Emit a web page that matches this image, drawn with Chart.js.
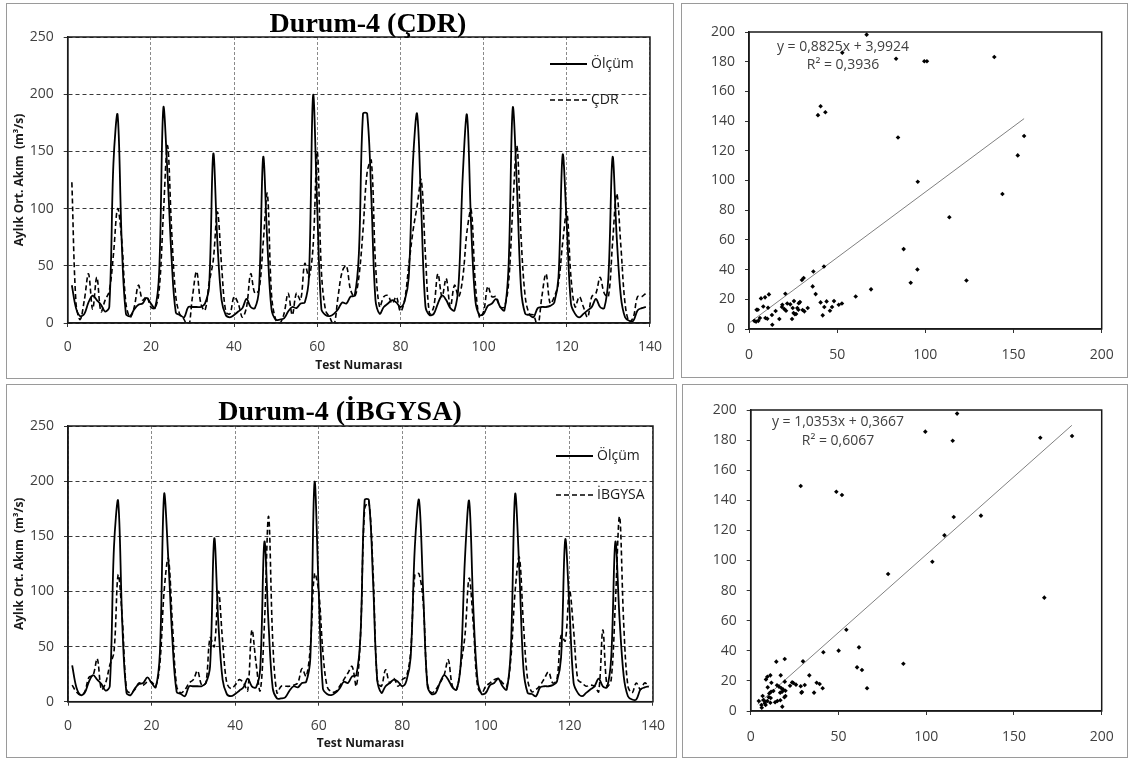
<!DOCTYPE html>
<html>
<head>
<meta charset="utf-8">
<script src="https://cdn.jsdelivr.net/npm/chart.js@4.4.1/dist/chart.umd.min.js"></script>
<style>
  body { margin: 0; background: #fff; width: 1131px; height: 760px; overflow: hidden; position: relative; }
  canvas { position: absolute; }
  .panel { position: absolute; box-sizing: border-box; border: 1px solid #9a9a9a; pointer-events: none; }
</style>
</head>
<body>
<canvas id="serieCdr" width="668" height="376" style="left:6px;top:3px"></canvas>
<div class="panel" style="left:6px;top:3px;width:668px;height:376px"></div>
<canvas id="dagilimCdr" width="447" height="375" style="left:681px;top:3px"></canvas>
<div class="panel" style="left:681px;top:3px;width:447px;height:375px"></div>
<canvas id="serieIbg" width="671" height="374" style="left:6px;top:384px"></canvas>
<div class="panel" style="left:6px;top:384px;width:671px;height:374px"></div>
<canvas id="dagilimIbg" width="446" height="374" style="left:682px;top:384px"></canvas>
<div class="panel" style="left:682px;top:384px;width:446px;height:374px"></div>

<script>
// test numarası 1..139
const testNo = Array.from({ length: 139 }, (_, i) => i + 1);

const olcum = [
  33, 13, 6, 8, 18, 24, 20, 16, 10, 14, 140, 182, 70, 8, 6, 12, 16, 17, 22, 17,
  13, 45, 188, 130, 55, 9, 7, 5, 14, 14, 14, 14, 17, 32, 148, 70, 20, 7, 5, 7,
  10, 13, 21, 14, 13, 30, 145, 70, 12, 3, 3, 4, 10, 14, 13, 17, 18, 40, 199, 100,
  12, 7, 6, 8, 12, 18, 17, 23, 24, 60, 183, 183, 110, 20, 8, 14, 17, 20, 18, 14,
  19, 40, 140, 183, 100, 15, 7, 8, 17, 24, 20, 13, 11, 35, 130, 182, 85, 20, 7, 8,
  15, 17, 21, 14, 11, 50, 188, 120, 30, 8, 7, 5, 13, 14, 14, 15, 18, 40, 147, 85,
  17, 8, 5, 8, 11, 14, 21, 14, 13, 40, 145, 75, 23, 5, 2, 2, 11, 13, 14
];

const cdr = [
  123, 17, 3, 20, 43, 12, 40, 10, 20, 28, 60, 100, 72, 17, 5, 14, 33, 20, 23, 14,
  13, 29, 95, 155, 80, 23, 7, 3, -5, 23, 45, 17, 11, 35, 55, 97, 50, 10, 8, 23,
  17, 5, 14, 43, 26, 29, 70, 113, 25, 3, 0, 8, 26, 7, 26, 20, 52, 40, 67, 150,
  45, 11, 5, -2, 23, 45, 50, 29, 23, 40, 81, 132, 142, 52, 14, 23, 24, 17, 23, 10,
  20, 50, 80, 102, 125, 60, 8, 14, 43, 23, 39, 14, 33, 23, 40, 80, 99, 35, 5, 10,
  32, 23, 23, 14, 14, 35, 100, 155, 75, 23, 8, 7, -3, 23, 43, 17, 23, 35, 70, 97,
  40, 14, 23, 14, 5, 23, 26, 40, 26, 23, 70, 113, 67, 17, 1, 5, 23, 23, 26
];

const ibgysa = [
  15, 9, 6, 9, 22, 24, 39, 11, 17, 33, 45, 115, 75, 11, 8, 11, 17, 15, 18, 18,
  14, 35, 100, 130, 70, 14, 8, 11, 17, 20, 28, 15, 17, 58, 50, 100, 55, 17, 12, 15,
  20, 17, 10, 65, 35, 10, 70, 168, 55, 8, 14, 14, 14, 15, 17, 30, 23, 50, 116, 100,
  45, 14, 9, 9, 14, 20, 26, 32, 14, 60, 175, 181, 119, 20, 14, 29, 17, 21, 14, 20,
  23, 45, 115, 116, 90, 17, 8, 11, 17, 24, 38, 14, 11, 33, 60, 112, 70, 14, 8, 14,
  17, 20, 21, 17, 14, 40, 100, 131, 70, 20, 9, 11, 15, 21, 27, 17, 20, 60, 55, 101,
  65, 20, 17, 14, 15, 14, 9, 65, 14, 20, 90, 168, 70, 14, 8, 17, 11, 17, 14
];

// dağılım (x: model, y: ölçüm)
const cdrX = [66.7, 52.9, 83.4, 99.4, 100.9, 139.1, 40.6, 39.1, 43.3, 84.5, 156, 152.4, 95.7, 143.7, 113.6,
  87.7, 95.5, 91.7, 123.3, 69.2, 60.5, 42.5, 36.5, 36.1, 37.8, 30, 31, 20.6, 11.3, 6.8, 9.1, 8.1, 10.8,
  4.3, 5, 6.2, 4, 3, 5.3, 9.3, 10.4, 13, 13.2, 15.1, 17.2, 18.9, 18.7, 20, 21, 21.7, 23.4, 24.4, 24.8,
  25.5, 25.3, 26, 26.7, 27.4, 28.2, 28.9, 28, 30.4, 31.4, 33.3, 40.6, 42.7, 44, 41.8, 45.9, 47.1, 48.2, 50.9, 52.7];
const cdrY = [198.2, 186.1, 182, 180.3, 180.3, 183.2, 150, 144, 146, 129, 130, 116.9, 99.2, 90.9, 75.3,
  53.8, 40.1, 31.1, 32.7, 26.7, 21.9, 42.1, 38.7, 28.7, 23.5, 33, 34.3, 23.7, 23.3, 20.6, 21.3, 15.2, 14.3,
  13, 13, 7.4, 5, 5.5, 5.5, 7.4, 6.9, 9.4, 2.9, 12.1, 6.7, 16.3, 14.8, 13.4, 12.3, 17.2, 16.6, 6.7, 14.1,
  18.8, 10.8, 9.9, 10.1, 14.1, 17.3, 18.1, 13, 12.8, 11.9, 14.1, 17.9, 14.8, 18.6, 9.2, 12.3, 14.8, 18.8, 16.3, 17.2];
const cdrEgim = 0.8825;
const cdrSabit = 3.9924;
const cdrR2 = '0,3936';
const cdrAralik = [0, 156];

const ibgX = [117.6, 99.5, 115.1, 165, 183.1, 28.5, 48.8, 52, 115.7, 131.2, 110.4, 103.5, 78.3, 167.3, 54.5,
  61.7, 50.1, 41.4, 29.8, 87, 60.6, 63.4, 66.3, 33.4, 19.4, 14.6, 17.1, 11.2, 9.5, 8.7, 11.8, 9.7, 15, 16.1,
  19.4, 23.6, 24.3, 25.8, 22.4, 28.5, 30.8, 28.9, 29.2, 36.1, 37.6, 39.3, 41, 17.5, 18.6, 19.8, 16.8, 17.9,
  19.8, 19.2, 16.9, 18, 13.9, 11.6, 12.9, 10.6, 10.3, 11.4, 9.5, 11.2, 7.2, 8.2, 6.8, 4.6, 6.1, 8.5, 8, 6.3, 15.2];
const ibgY = [197.6, 185.6, 179.6, 181.6, 182.7, 149.5, 145.7, 143.5, 128.9, 129.8, 116.7, 99.2, 91, 75.3, 54,
  42.3, 40.1, 39, 33, 31.4, 29, 27.2, 15.1, 23.7, 34.6, 32.8, 23.7, 23.7, 22.8, 21, 18.8, 15.7, 17.1, 16.2,
  19.5, 19, 18.6, 17.5, 16.8, 16.4, 17.3, 12.2, 12.6, 12.2, 18.8, 17.9, 15.1, 15.1, 14.2, 13.5, 12.2, 12.8,
  10, 9.1, 7.1, 2.9, 5.8, 12.8, 13.3, 11.7, 9.1, 8.6, 6.6, 5.5, 7.3, 6.2, 10, 6.6, 4, 4, 5.1, 2.2, 6.6];
const ibgEgim = 1.0353;
const ibgSabit = 0.3667;
const ibgR2 = '0,6067';
const ibgAralik = [4, 183];

const yaziRengi = '#404040';

const cerceve = {
  id: 'cerceve',
  afterDraw(chart) {
    const { ctx, chartArea: a } = chart;
    ctx.save();
    ctx.strokeStyle = '#1a1a1a';
    ctx.lineWidth = 1.5;
    ctx.setLineDash([]);
    ctx.strokeRect(a.left, a.top, a.right - a.left, a.bottom - a.top);
    ctx.restore();
  }
};

const baslik = {
  id: 'baslik',
  afterDraw(chart, args, opts) {
    if (!opts.text) return;
    const ctx = chart.ctx;
    ctx.save();
    ctx.font = 'bold 28px "Liberation Serif", "Times New Roman", serif';
    ctx.fillStyle = '#000';
    ctx.textAlign = 'center';
    ctx.textBaseline = 'alphabetic';
    ctx.fillText(opts.text, opts.x, opts.y);
    ctx.restore();
  }
};

const icLejant = {
  id: 'icLejant',
  afterDraw(chart, args, opts) {
    if (!opts.rows) return;
    const ctx = chart.ctx;
    ctx.save();
    ctx.font = '14px "Open Sans", sans-serif';
    ctx.fillStyle = '#1a1a1a';
    ctx.textBaseline = 'middle';
    chart.data.datasets.forEach((ds, i) => {
      const y = opts.rows[i];
      ctx.strokeStyle = ds.borderColor;
      ctx.lineWidth = ds.borderWidth;
      ctx.setLineDash(ds.borderDash || []);
      ctx.beginPath();
      ctx.moveTo(opts.x1, y);
      ctx.lineTo(opts.x2, y);
      ctx.stroke();
      ctx.fillText(ds.label, opts.x2 + 4, y);
    });
    ctx.restore();
  }
};

const denklem = {
  id: 'denklem',
  afterDraw(chart, args, opts) {
    if (!opts.lines) return;
    const ctx = chart.ctx;
    ctx.save();
    ctx.font = '14px "Open Sans", sans-serif';
    ctx.fillStyle = yaziRengi;
    ctx.textAlign = 'center';
    ctx.textBaseline = 'middle';
    opts.lines.forEach((t, i) => ctx.fillText(t, opts.x, opts.y + i * opts.gap));
    ctx.restore();
  }
};

function seriGrafik(id, etiket, tahmin, ayar) {
  return new Chart(document.getElementById(id), {
    type: 'line',
    data: {
      datasets: [
        {
          label: 'Ölçüm',
          data: testNo.map((t, i) => ({ x: t, y: olcum[i] })),
          borderColor: '#000',
          borderWidth: 1.8,
          pointRadius: 0,
          tension: 0.35,
          fill: false
        },
        {
          label: etiket,
          data: testNo.map((t, i) => ({ x: t, y: tahmin[i] })),
          borderColor: '#000',
          borderWidth: 1.6,
          borderDash: [5, 3],
          pointRadius: 0,
          tension: 0.35,
          fill: false
        }
      ]
    },
    options: {
      responsive: false,
      animation: false,
      layout: { padding: { top: ayar.top, right: ayar.right, left: 0, bottom: 0 } },
      scales: {
        x: {
          type: 'linear',
          min: 0, max: 140,
          afterFit: s => { s.height = ayar.xh; },
          ticks: { stepSize: 20, padding: 12, color: yaziRengi, font: { family: 'Open Sans', size: 14 }, maxRotation: 0 },
          grid: { color: '#8a8a8a', lineWidth: 1, tickLength: 4, tickColor: '#333' },
          border: { color: '#1a1a1a', width: 1.5, dash: [3, 2] },
          title: {
            display: true, text: 'Test Numarası', color: '#1a1a1a',
            font: { family: 'Open Sans', size: 12, weight: 'bold' },
            padding: { top: 0, bottom: ayar.xtPad }
          }
        },
        y: {
          min: 0, max: 250,
          afterFit: s => { s.width = ayar.yw; },
          ticks: { stepSize: 50, padding: 10, color: yaziRengi, font: { family: 'Open Sans', size: 14 } },
          grid: { color: '#3a3a3a', lineWidth: 1, tickLength: 4, tickColor: '#333' },
          border: { color: '#1a1a1a', width: 1.5, dash: [4, 3] },
          title: {
            display: true, text: 'Aylık Ort. Akım  (m³/s)', color: '#1a1a1a',
            font: { family: 'Open Sans', size: 12, weight: 'bold' },
            padding: { top: 6, bottom: 0 }
          }
        }
      },
      plugins: {
        legend: { display: false },
        tooltip: { enabled: false },
        baslik: ayar.baslik,
        icLejant: ayar.lejant
      }
    },
    plugins: [cerceve, baslik, icLejant]
  });
}

function dagilimGrafik(id, xs, ys, egim, sabit, aralik, r2, ayar) {
  return new Chart(document.getElementById(id), {
    type: 'scatter',
    data: {
      datasets: [
        {
          data: xs.map((x, i) => ({ x: x, y: ys[i] })),
          pointStyle: 'rectRot',
          pointRadius: 2.3,
          pointBackgroundColor: '#000',
          pointBorderColor: '#000',
          pointBorderWidth: 0,
          order: 0
        },
        {
          type: 'line',
          data: aralik.map(x => ({ x: x, y: egim * x + sabit })),
          borderColor: '#808080',
          borderWidth: 1,
          pointRadius: 0,
          order: 1
        }
      ]
    },
    options: {
      responsive: false,
      animation: false,
      layout: { padding: { top: ayar.top, right: ayar.right, left: 0, bottom: 0 } },
      scales: {
        x: {
          type: 'linear',
          min: 0, max: 200,
          afterFit: s => { s.height = ayar.xh; },
          ticks: { stepSize: 50, padding: 14, color: yaziRengi, font: { family: 'Open Sans', size: 14 }, maxRotation: 0 },
          grid: { drawOnChartArea: false, tickLength: 4, tickColor: '#333' },
          border: { color: '#1a1a1a', width: 1.5 }
        },
        y: {
          min: 0, max: 200,
          afterFit: s => { s.width = ayar.yw; },
          ticks: { stepSize: 20, padding: 10, color: yaziRengi, font: { family: 'Open Sans', size: 14 } },
          grid: { drawOnChartArea: false, tickLength: 4, tickColor: '#333' },
          border: { color: '#1a1a1a', width: 1.5 }
        }
      },
      plugins: {
        legend: { display: false },
        tooltip: { enabled: false },
        denklem: {
          lines: [
            'y = ' + egim.toFixed(4).replace('.', ',') + 'x + ' + sabit.toFixed(4).replace('.', ','),
            'R² = ' + r2
          ],
          x: ayar.eqX, y: ayar.eqY, gap: ayar.eqGap
        }
      }
    },
    plugins: [cerceve, denklem]
  });
}

seriGrafik('serieCdr', 'ÇDR', cdr, {
  top: 34, right: 23, xh: 56, yw: 61.7, xtPad: 6,
  baslik: { text: 'Durum-4 (ÇDR)', x: 362, y: 29 },
  lejant: { x1: 544, x2: 581, rows: [61, 97] }
});

seriGrafik('serieIbg', 'İBGYSA', ibgysa, {
  top: 42, right: 22, xh: 56.3, yw: 62, xtPad: 7,
  baslik: { text: 'Durum-4 (İBGYSA)', x: 334, y: 36 },
  lejant: { x1: 550, x2: 587, rows: [72, 111] }
});

dagilimGrafik('dagilimCdr', cdrX, cdrY, cdrEgim, cdrSabit, cdrAralik, cdrR2, {
  top: 29, right: 26.3, xh: 49, yw: 68, eqX: 162, eqY: 44, eqGap: 18
});

dagilimGrafik('dagilimIbg', ibgX, ibgY, ibgEgim, ibgSabit, ibgAralik, ibgR2, {
  top: 26, right: 26.3, xh: 47, yw: 68.7, eqX: 156, eqY: 38, eqGap: 19
});
</script>
</body>
</html>
